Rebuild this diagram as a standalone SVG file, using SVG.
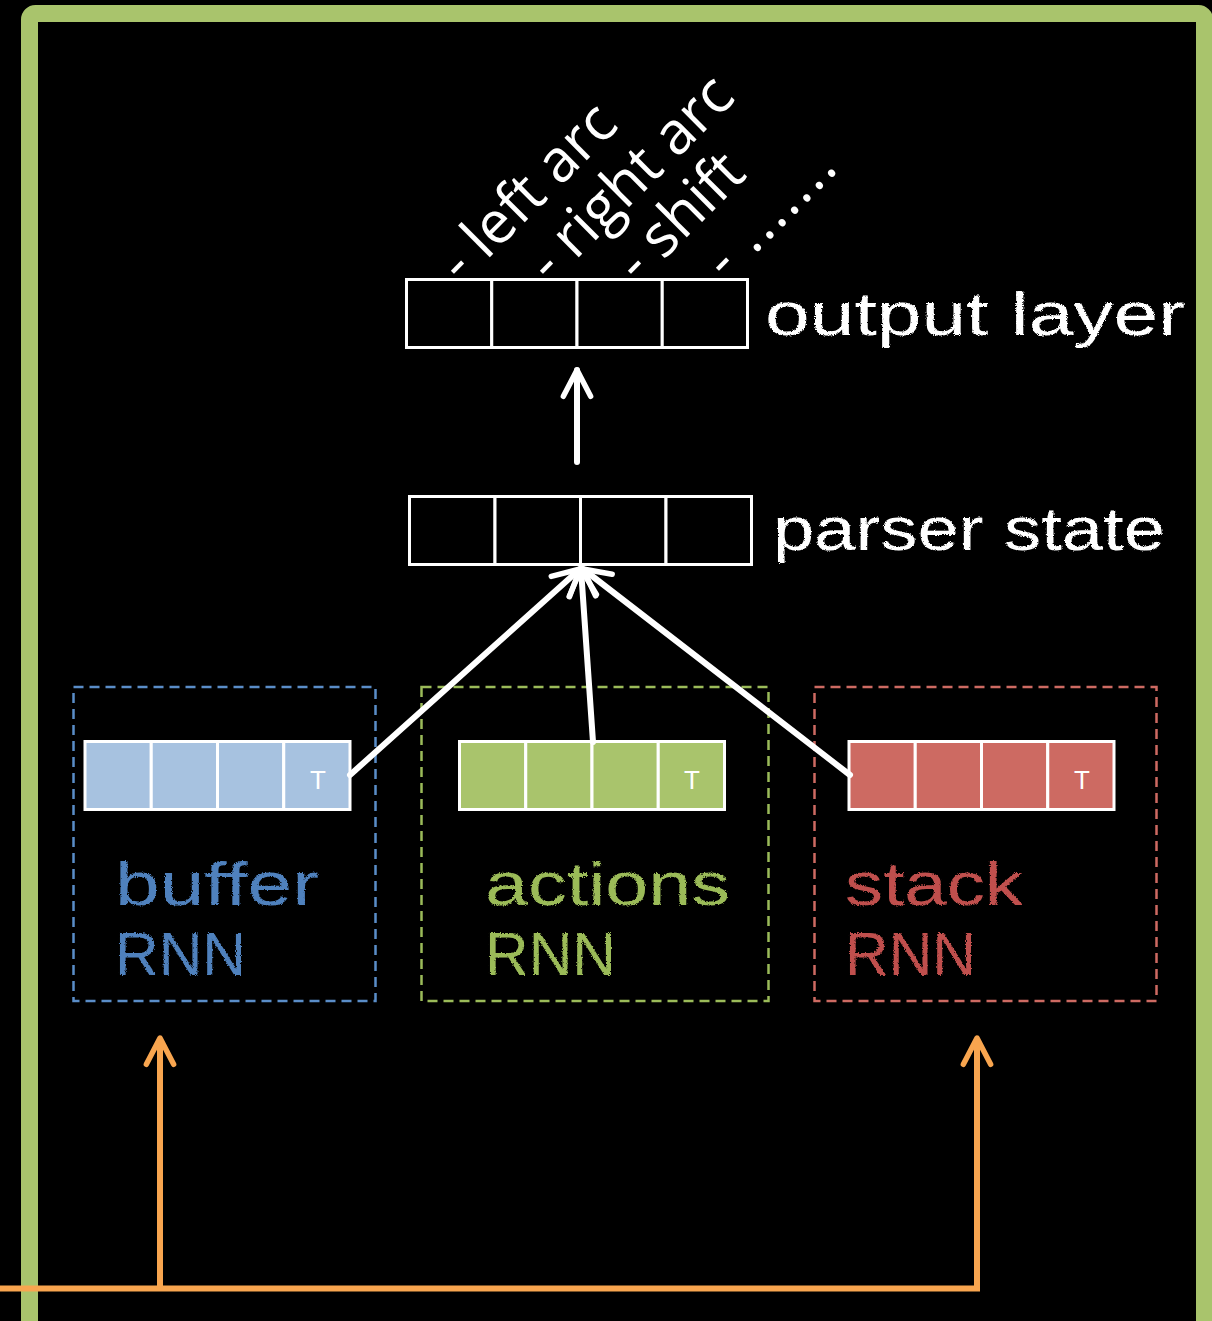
<svg xmlns="http://www.w3.org/2000/svg" width="1212" height="1321" viewBox="0 0 1212 1321">
  <defs>
    <style>
      .cell { stroke: #ffffff; stroke-width: 3; }
      .empty { fill: #000000; }
      .blue { fill: #A7C2E0; }
      .green { fill: #A9C46C; }
      .red { fill: #CD6A62; }
      .dash { fill: none; stroke-width: 2.5; stroke-dasharray: 10 6; }
      .wire { fill: none; stroke: #ffffff; stroke-width: 6; stroke-linecap: round; }
      .feed { fill: none; stroke: #F8A54F; stroke-width: 6; }
      .chalk { font-family: "Liberation Sans", "DejaVu Sans", sans-serif; font-size: 62px; filter: url(#rough); }
      .tag { font-family: "Liberation Sans", Arial, sans-serif; font-size: 26px; fill: #ffffff; text-anchor: middle; }
      .act { font-family: "Open Sans", "Noto Sans", sans-serif; font-size: 59px; fill: #ffffff; }
    </style>
    <filter id="rough" x="-5%" y="-10%" width="110%" height="120%">
      <feTurbulence type="fractalNoise" baseFrequency="0.9" numOctaves="2" seed="3" result="n"/>
      <feDisplacementMap in="SourceGraphic" in2="n" scale="3" xChannelSelector="R" yChannelSelector="G"/>
    </filter>
    <marker id="headW" markerUnits="userSpaceOnUse" orient="auto" refX="0" refY="0" markerWidth="40" markerHeight="40" viewBox="-40 -20 44 40" overflow="visible">
      <path d="M -29 -15 L 0 0 L -29 15" fill="none" stroke="#ffffff" stroke-width="6" stroke-linecap="round" stroke-linejoin="round"/>
    </marker>
    <marker id="headO" markerUnits="userSpaceOnUse" orient="auto" refX="0" refY="0" markerWidth="40" markerHeight="40" viewBox="-40 -20 44 40" overflow="visible">
      <path d="M -29 -15 L 0 0 L -29 15" fill="none" stroke="#F8A54F" stroke-width="6" stroke-linecap="round" stroke-linejoin="round"/>
    </marker>
  </defs>

  <rect x="0" y="0" width="1212" height="1321" fill="#000000"/>
  <!-- outer frame -->
  <rect x="29.5" y="13.5" width="1175" height="1320" rx="6" fill="none" stroke="#A9C46C" stroke-width="17"/>

  <!-- output layer -->
  <g id="output-layer">
    <rect class="cell empty" x="406.5" y="279.5" width="85.25" height="68"/>
    <rect class="cell empty" x="491.75" y="279.5" width="85.25" height="68"/>
    <rect class="cell empty" x="577" y="279.5" width="85.25" height="68"/>
    <rect class="cell empty" x="662.25" y="279.5" width="85.25" height="68"/>
    <text class="act" transform="translate(462 285) rotate(-45)">- left arc</text>
    <text class="act" transform="translate(551 285) rotate(-45)">- right arc</text>
    <text class="act" transform="translate(639 285) rotate(-45)">- shift</text>
    <text class="act" transform="translate(727 282) rotate(-45)" letter-spacing="2">- .......</text>
    <text class="chalk" x="765" y="335" fill="#ffffff" textLength="420" lengthAdjust="spacingAndGlyphs">output layer</text>
  </g>

  <!-- parser state -->
  <g id="parser-state">
    <rect class="cell empty" x="409.5" y="496.5" width="85.5" height="68"/>
    <rect class="cell empty" x="495" y="496.5" width="85.5" height="68"/>
    <rect class="cell empty" x="580.5" y="496.5" width="85.5" height="68"/>
    <rect class="cell empty" x="666" y="496.5" width="85.5" height="68"/>
    <text class="chalk" x="773" y="550" fill="#ffffff" textLength="392" lengthAdjust="spacingAndGlyphs">parser state</text>
  </g>

  <!-- buffer RNN -->
  <g id="buffer-rnn">
    <rect class="dash" x="73.5" y="687" width="302" height="314" stroke="#5A8DC8"/>
    <rect class="cell blue" x="85" y="741.5" width="66.25" height="68"/>
    <rect class="cell blue" x="151.25" y="741.5" width="66.25" height="68"/>
    <rect class="cell blue" x="217.5" y="741.5" width="66.25" height="68"/>
    <rect class="cell blue" x="283.75" y="741.5" width="66.25" height="68"/>
    <text class="tag" x="318" y="789">T</text>
    <text class="chalk" x="115" y="905" fill="#4F81BD" textLength="204" lengthAdjust="spacingAndGlyphs">buffer</text>
    <text class="chalk" x="115" y="975" fill="#4F81BD" textLength="131" lengthAdjust="spacingAndGlyphs">RNN</text>
  </g>

  <!-- actions RNN -->
  <g id="actions-rnn">
    <rect class="dash" x="421.5" y="687" width="347" height="314" stroke="#9BBB59"/>
    <rect class="cell green" x="459.5" y="741.5" width="66.25" height="68"/>
    <rect class="cell green" x="525.75" y="741.5" width="66.25" height="68"/>
    <rect class="cell green" x="592" y="741.5" width="66.25" height="68"/>
    <rect class="cell green" x="658.25" y="741.5" width="66.25" height="68"/>
    <text class="tag" x="692" y="789">T</text>
    <text class="chalk" x="485" y="905" fill="#9BBB59" textLength="245" lengthAdjust="spacingAndGlyphs">actions</text>
    <text class="chalk" x="485" y="975" fill="#9BBB59" textLength="131" lengthAdjust="spacingAndGlyphs">RNN</text>
  </g>

  <!-- stack RNN -->
  <g id="stack-rnn">
    <rect class="dash" x="814.5" y="687" width="342" height="314" stroke="#CD6A62"/>
    <rect class="cell red" x="849" y="741.5" width="66.25" height="68"/>
    <rect class="cell red" x="915.25" y="741.5" width="66.25" height="68"/>
    <rect class="cell red" x="981.5" y="741.5" width="66.25" height="68"/>
    <rect class="cell red" x="1047.75" y="741.5" width="66.25" height="68"/>
    <text class="tag" x="1082" y="789">T</text>
    <text class="chalk" x="845" y="905" fill="#C0504D" textLength="178" lengthAdjust="spacingAndGlyphs">stack</text>
    <text class="chalk" x="845" y="975" fill="#C0504D" textLength="131" lengthAdjust="spacingAndGlyphs">RNN</text>
  </g>

  <!-- connectors -->
  <g id="connectors">
    <path class="wire" d="M 577 462 L 577 370" marker-end="url(#headW)"/>
    <path class="wire" d="M 350 775 L 580 569" marker-end="url(#headW)"/>
    <path class="wire" d="M 593 742 L 581 569" marker-end="url(#headW)"/>
    <path class="wire" d="M 850 775 L 583 569" marker-end="url(#headW)"/>
    <path class="feed" d="M 0 1288.5 L 980 1288.5"/>
    <path class="feed" d="M 160 1288.5 L 160 1038" marker-end="url(#headO)"/>
    <path class="feed" d="M 977 1291 L 977 1038" marker-end="url(#headO)"/>
  </g>
</svg>
